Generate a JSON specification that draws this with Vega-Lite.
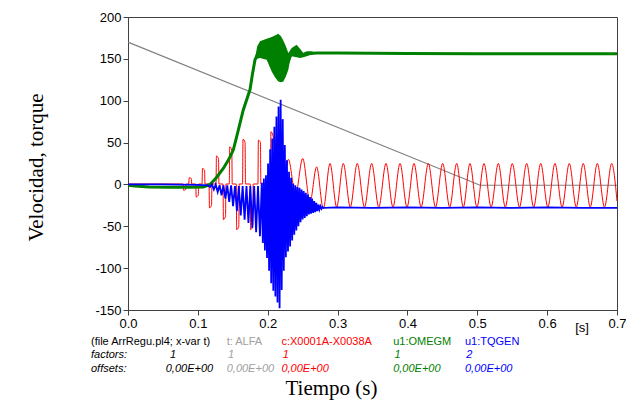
{
"$schema":"https://vega.github.io/schema/vega-lite/v6.json",
"width":489,"height":293,
"autosize":{"type":"none"},
"padding":{"left":128,"top":17,"right":9,"bottom":90},
"background":"white",
"config":{"view":{"stroke":"#404040","strokeWidth":1}},
"resolve":{"axis":{"x":"independent","y":"independent"}},
"datasets":{
"one":[{"k":1}],
"alfa":[{"t":0,"v":170},{"t":0.504,"v":-1},{"t":0.7,"v":-1}],
"red":[{"t":0,"v":0.5},{"t":0.079,"v":0.5},{"t":0.0796,"v":-7},{"t":0.0826,"v":-6},{"t":0.0832,"v":0.5},
{"t":0.087,"v":0.5},{"t":0.0876,"v":8},{"t":0.0906,"v":7},{"t":0.0912,"v":0.5},
{"t":0.097,"v":0.5},{"t":0.0976,"v":-15},{"t":0.1006,"v":-13},{"t":0.1012,"v":0.5},
{"t":0.106,"v":0.5},{"t":0.1066,"v":19},{"t":0.1096,"v":17},{"t":0.1102,"v":0.5},
{"t":0.116,"v":0.5},{"t":0.1166,"v":-28},{"t":0.1196,"v":-25},{"t":0.1202,"v":0.5},
{"t":0.126,"v":0.5},{"t":0.1266,"v":34},{"t":0.1296,"v":31},{"t":0.1302,"v":0.5},
{"t":0.136,"v":0.5},{"t":0.1366,"v":-42},{"t":0.1396,"v":-38},{"t":0.1402,"v":0.5},
{"t":0.145,"v":0.5},{"t":0.1456,"v":45},{"t":0.1486,"v":41},{"t":0.1492,"v":0.5},
{"t":0.155,"v":0.5},{"t":0.1556,"v":-54},{"t":0.1586,"v":-50},{"t":0.1592,"v":0.5},
{"t":0.164,"v":0.5},{"t":0.1646,"v":54},{"t":0.1676,"v":50},{"t":0.1682,"v":0.5},
{"t":0.175,"v":0.5},{"t":0.1756,"v":-54},{"t":0.1786,"v":-50},{"t":0.1792,"v":0.5},
{"t":0.186,"v":0.5},{"t":0.1866,"v":53},{"t":0.1896,"v":50},{"t":0.1902,"v":0.5},
{"t":0.196,"v":0.5},{"t":0.1966,"v":-60},{"t":0.1996,"v":-55},{"t":0.2002,"v":0.5},
{"t":0.204,"v":0.5},{"t":0.2046,"v":63},{"t":0.2076,"v":58},
{"t":0.2176,"v":-62},{"t":0.2295,"v":30},{"t":0.2398,"v":-12},{"t":0.2501,"v":31},{"t":0.2605,"v":-21},{"t":0.27,"v":21},{"t":0.2796,"v":-29},
{"t":0.2892,"v":25},{"t":0.2987,"v":-27},{"t":0.3082,"v":25},{"t":0.3182,"v":-27},{"t":0.3282,"v":25},{"t":0.3385,"v":-27},{"t":0.3488,"v":25},{"t":0.359,"v":-27},{"t":0.3693,"v":25},{"t":0.3793,"v":-27},{"t":0.3894,"v":25},{"t":0.3994,"v":-27},{"t":0.4094,"v":25},{"t":0.4196,"v":-27},{"t":0.4299,"v":25},{"t":0.4402,"v":-27},{"t":0.4505,"v":25},{"t":0.4605,"v":-27},{"t":0.4705,"v":25},{"t":0.48,"v":-27},{"t":0.4895,"v":25},{"t":0.4995,"v":-27},{"t":0.5096,"v":25},{"t":0.5198,"v":-27},{"t":0.5301,"v":25},{"t":0.5401,"v":-27},{"t":0.5501,"v":25},{"t":0.5604,"v":-27},{"t":0.5707,"v":25},{"t":0.5807,"v":-27},{"t":0.5908,"v":25},{"t":0.601,"v":-27},{"t":0.6112,"v":25},{"t":0.6214,"v":-27},{"t":0.6317,"v":25},{"t":0.6417,"v":-27},{"t":0.6517,"v":25},{"t":0.6617,"v":-27},{"t":0.6718,"v":25},{"t":0.6821,"v":-27},{"t":0.6924,"v":25},{"t":0.7,"v":-20}],
"green":[{"t":0,"v":-1},{"t":0.01,"v":-2},{"t":0.03,"v":-3},{"t":0.06,"v":-3.5},{"t":0.09,"v":-3.5},{"t":0.108,"v":-3},{"t":0.1174,"v":0},{"t":0.1264,"v":8},{"t":0.1364,"v":19},{"t":0.1437,"v":29},{"t":0.1507,"v":41},{"t":0.1579,"v":65},{"t":0.165,"v":89},{"t":0.1746,"v":113},{"t":0.1782,"v":132},{"t":0.1818,"v":149},{"t":0.189,"v":162},{"t":0.195,"v":162},{"t":0.2057,"v":156},{"t":0.2129,"v":152},{"t":0.2176,"v":151},{"t":0.2223,"v":148},{"t":0.2295,"v":147},{"t":0.2342,"v":158},{"t":0.2414,"v":159},{"t":0.2486,"v":155},{"t":0.2557,"v":156},{"t":0.27,"v":157},{"t":0.3,"v":157},{"t":0.4,"v":156.5},{"t":0.5,"v":156},{"t":0.6,"v":156},{"t":0.7,"v":156}],
"band":[{"t":0.1818,"lo":147,"hi":151},{"t":0.185,"lo":150,"hi":165},{"t":0.189,"lo":151,"hi":171},{"t":0.1985,"lo":149,"hi":174},{"t":0.2057,"lo":135,"hi":176},{"t":0.2104,"lo":128,"hi":178},{"t":0.2151,"lo":123,"hi":180},{"t":0.219,"lo":122,"hi":177},{"t":0.2223,"lo":123,"hi":172},{"t":0.226,"lo":129,"hi":165},{"t":0.2295,"lo":137,"hi":157},{"t":0.232,"lo":148,"hi":160},{"t":0.2343,"lo":153,"hi":163},{"t":0.2414,"lo":152,"hi":167},{"t":0.2462,"lo":151,"hi":162},{"t":0.2509,"lo":152,"hi":157},{"t":0.2558,"lo":153,"hi":159},{"t":0.262,"lo":155,"hi":159},{"t":0.2677,"lo":156,"hi":158}],
"blue":[{"t":0,"v":0},{"t":0.05,"v":0},{"t":0.1,"v":-0.5},{"t":0.114,"v":-1},
{"t":0.1174,"v":-3},{"t":0.1201,"v":0},{"t":0.1229,"v":-6},{"t":0.1256,"v":0},{"t":0.1284,"v":-9},{"t":0.1311,"v":-1},{"t":0.1339,"v":-13},{"t":0.1366,"v":-1},{"t":0.1394,"v":-17},{"t":0.1421,"v":-1},{"t":0.1449,"v":-21},{"t":0.1476,"v":-1},{"t":0.1504,"v":-26},{"t":0.1531,"v":-2},{"t":0.1559,"v":-32},{"t":0.1586,"v":-2},{"t":0.1614,"v":-37},{"t":0.1641,"v":-2},{"t":0.1669,"v":-42},{"t":0.1696,"v":-2},{"t":0.1724,"v":-46},{"t":0.1751,"v":-2},{"t":0.1779,"v":-52},{"t":0.1806,"v":-2},{"t":0.1834,"v":-57},{"t":0.1861,"v":-2},{"t":0.1889,"v":-62},
{"t":0.1915,"v":2},{"t":0.193,"v":-70},{"t":0.1945,"v":7},{"t":0.196,"v":-79},{"t":0.1975,"v":11},{"t":0.199,"v":-88},{"t":0.2005,"v":25},{"t":0.202,"v":-103},{"t":0.2035,"v":42},{"t":0.205,"v":-118},{"t":0.2065,"v":55},{"t":0.208,"v":-127},{"t":0.2095,"v":69},{"t":0.211,"v":-134},{"t":0.2125,"v":81},{"t":0.214,"v":-141},{"t":0.2155,"v":93},{"t":0.217,"v":-148},{"t":0.2185,"v":101},{"t":0.22,"v":-126},{"t":0.2215,"v":78},{"t":0.223,"v":-103},{"t":0.2245,"v":47},{"t":0.226,"v":-87},{"t":0.2275,"v":29},{"t":0.229,"v":-80},{"t":0.2305,"v":15},{"t":0.232,"v":-74},{"t":0.2335,"v":8},{"t":0.235,"v":-67},{"t":0.2365,"v":1},{"t":0.238,"v":-60},{"t":0.2395,"v":-1},{"t":0.241,"v":-55},{"t":0.2425,"v":-3},{"t":0.244,"v":-50},{"t":0.2455,"v":-4},{"t":0.247,"v":-45},{"t":0.2485,"v":-6},{"t":0.25,"v":-42},{"t":0.2515,"v":-8},{"t":0.253,"v":-40},{"t":0.2545,"v":-10},{"t":0.256,"v":-38},{"t":0.2575,"v":-12},{"t":0.259,"v":-36},{"t":0.2605,"v":-15},{"t":0.262,"v":-35},{"t":0.2635,"v":-17},{"t":0.265,"v":-34},{"t":0.2665,"v":-20},{"t":0.268,"v":-33},{"t":0.2695,"v":-22},{"t":0.271,"v":-32},{"t":0.2725,"v":-24},{"t":0.274,"v":-30},{"t":0.2755,"v":-26},{"t":0.277,"v":-29},{"t":0.2785,"v":-27},
{"t":0.28,"v":-28},{"t":0.3,"v":-27.5},{"t":0.35,"v":-28},{"t":0.4,"v":-27.5},{"t":0.45,"v":-28},{"t":0.5,"v":-27.5},{"t":0.55,"v":-28},{"t":0.6,"v":-27.5},{"t":0.65,"v":-28},{"t":0.7,"v":-28}]
},
"layer":[
{"data":{"name":"alfa"},"mark":{"type":"line","stroke":"#808080","strokeWidth":1.2},
"encoding":{
"x":{"field":"t","type":"quantitative","scale":{"domain":[0,0.7],"nice":false},
"axis":{"values":[0,0.1,0.2,0.3,0.4,0.5,0.6,0.7],"labelExpr":"format(datum.value,'.1f')","grid":false,"tickSize":5,"tickColor":"#404040","domainColor":"#404040","labelFont":"Liberation Sans","labelFontSize":13,"labelColor":"#000000","labelPadding":2,"labelFlush":false,"labelOverlap":false,
"title":"Tiempo (s)","titleX":203,"titleY":84,"titleAlign":"center","titleAnchor":null,"titleBaseline":"alphabetic","titleFont":"Liberation Serif","titleFontSize":21,"titleFontWeight":"normal","titleColor":"#000000"}},
"y":{"field":"v","type":"quantitative","scale":{"domain":[-150,200],"nice":false},
"axis":{"values":[-150,-100,-50,0,50,100,150,200],"labelExpr":"'' + datum.value","grid":false,"tickSize":5,"tickColor":"#404040","domainColor":"#404040","labelFont":"Liberation Sans","labelFontSize":13,"labelColor":"#000000","labelPadding":2,"labelFlush":false,"labelOverlap":false,
"title":"Velocidad, torque","titleX":-86,"titleY":150,"titleAngle":-90,"titleAlign":"center","titleAnchor":null,"titleBaseline":"alphabetic","titleFont":"Liberation Serif","titleFontSize":21,"titleFontWeight":"normal","titleColor":"#000000"}}}},
{"data":{"name":"red"},"mark":{"type":"line","stroke":"#ff0000","strokeWidth":1,"interpolate":"monotone"},
"encoding":{"x":{"field":"t","type":"quantitative","scale":{"domain":[0,0.7],"nice":false},"axis":null},"y":{"field":"v","type":"quantitative","scale":{"domain":[-150,200],"nice":false},"axis":null}}},
{"data":{"name":"band"},"mark":{"type":"area","fill":"#008000","opacity":1},
"encoding":{"x":{"field":"t","type":"quantitative","scale":{"domain":[0,0.7],"nice":false},"axis":null},"y":{"field":"lo","type":"quantitative","scale":{"domain":[-150,200],"nice":false},"axis":null},"y2":{"field":"hi"}}},
{"data":{"name":"green"},"mark":{"type":"line","stroke":"#008000","strokeWidth":3},
"encoding":{"x":{"field":"t","type":"quantitative","scale":{"domain":[0,0.7],"nice":false},"axis":null},"y":{"field":"v","type":"quantitative","scale":{"domain":[-150,200],"nice":false},"axis":null}}},
{"data":{"name":"blue"},"mark":{"type":"line","stroke":"#0000ff","strokeWidth":1.8},
"encoding":{"x":{"field":"t","type":"quantitative","scale":{"domain":[0,0.7],"nice":false},"axis":null},"y":{"field":"v","type":"quantitative","scale":{"domain":[-150,200],"nice":false},"axis":null}}},
{"data":{"name":"one"},"mark":{"type":"text","text":"(file ArrRegu.pl4; x-var t)","align":"left","baseline":"middle","font":"Liberation Sans","fontSize":11,"fill":"#000000"},
"encoding":{"x":{"datum":-0.053,"type":"quantitative","scale":{"domain":[0,0.7],"nice":false},"axis":null},"y":{"datum":-188.5,"type":"quantitative","scale":{"domain":[-150,200],"nice":false},"axis":null}}},
{"data":{"name":"one"},"mark":{"type":"text","text":"t: ALFA","align":"left","baseline":"middle","font":"Liberation Sans","fontSize":11,"fill":"#a0a0a0"},
"encoding":{"x":{"datum":0.1413,"type":"quantitative","scale":{"domain":[0,0.7],"nice":false},"axis":null},"y":{"datum":-188.5,"type":"quantitative","scale":{"domain":[-150,200],"nice":false},"axis":null}}},
{"data":{"name":"one"},"mark":{"type":"text","text":"c:X0001A-X0038A","align":"left","baseline":"middle","font":"Liberation Sans","fontSize":11,"fill":"#ff0000"},
"encoding":{"x":{"datum":0.2196,"type":"quantitative","scale":{"domain":[0,0.7],"nice":false},"axis":null},"y":{"datum":-188.5,"type":"quantitative","scale":{"domain":[-150,200],"nice":false},"axis":null}}},
{"data":{"name":"one"},"mark":{"type":"text","text":"u1:OMEGM","align":"left","baseline":"middle","font":"Liberation Sans","fontSize":11,"fill":"#008000"},
"encoding":{"x":{"datum":0.3796,"type":"quantitative","scale":{"domain":[0,0.7],"nice":false},"axis":null},"y":{"datum":-188.5,"type":"quantitative","scale":{"domain":[-150,200],"nice":false},"axis":null}}},
{"data":{"name":"one"},"mark":{"type":"text","text":"u1:TQGEN","align":"left","baseline":"middle","font":"Liberation Sans","fontSize":11,"fill":"#0000ff"},
"encoding":{"x":{"datum":0.4824,"type":"quantitative","scale":{"domain":[0,0.7],"nice":false},"axis":null},"y":{"datum":-188.5,"type":"quantitative","scale":{"domain":[-150,200],"nice":false},"axis":null}}},
{"data":{"name":"one"},"mark":{"type":"text","text":"factors:","align":"left","baseline":"middle","font":"Liberation Sans","fontSize":11,"fontStyle":"italic","fill":"#000000"},
"encoding":{"x":{"datum":-0.053,"type":"quantitative","scale":{"domain":[0,0.7],"nice":false},"axis":null},"y":{"datum":-204,"type":"quantitative","scale":{"domain":[-150,200],"nice":false},"axis":null}}},
{"data":{"name":"one"},"mark":{"type":"text","text":"offsets:","align":"left","baseline":"middle","font":"Liberation Sans","fontSize":11,"fontStyle":"italic","fill":"#000000"},
"encoding":{"x":{"datum":-0.053,"type":"quantitative","scale":{"domain":[0,0.7],"nice":false},"axis":null},"y":{"datum":-220,"type":"quantitative","scale":{"domain":[-150,200],"nice":false},"axis":null}}},
{"data":{"name":"one"},"mark":{"type":"text","text":"1","align":"left","baseline":"middle","font":"Liberation Sans","fontSize":11,"fontStyle":"italic","fill":"#000000"},
"encoding":{"x":{"datum":0.06,"type":"quantitative","scale":{"domain":[0,0.7],"nice":false},"axis":null},"y":{"datum":-204,"type":"quantitative","scale":{"domain":[-150,200],"nice":false},"axis":null}}},
{"data":{"name":"one"},"mark":{"type":"text","text":"0,00E+00","align":"left","baseline":"middle","font":"Liberation Sans","fontSize":11,"fontStyle":"italic","fill":"#000000"},
"encoding":{"x":{"datum":0.054,"type":"quantitative","scale":{"domain":[0,0.7],"nice":false},"axis":null},"y":{"datum":-220,"type":"quantitative","scale":{"domain":[-150,200],"nice":false},"axis":null}}},
{"data":{"name":"one"},"mark":{"type":"text","text":"1","align":"left","baseline":"middle","font":"Liberation Sans","fontSize":11,"fontStyle":"italic","fill":"#a0a0a0"},
"encoding":{"x":{"datum":0.1431,"type":"quantitative","scale":{"domain":[0,0.7],"nice":false},"axis":null},"y":{"datum":-204,"type":"quantitative","scale":{"domain":[-150,200],"nice":false},"axis":null}}},
{"data":{"name":"one"},"mark":{"type":"text","text":"0,00E+00","align":"left","baseline":"middle","font":"Liberation Sans","fontSize":11,"fontStyle":"italic","fill":"#a0a0a0"},
"encoding":{"x":{"datum":0.1413,"type":"quantitative","scale":{"domain":[0,0.7],"nice":false},"axis":null},"y":{"datum":-220,"type":"quantitative","scale":{"domain":[-150,200],"nice":false},"axis":null}}},
{"data":{"name":"one"},"mark":{"type":"text","text":"1","align":"left","baseline":"middle","font":"Liberation Sans","fontSize":11,"fontStyle":"italic","fill":"#ff0000"},
"encoding":{"x":{"datum":0.2214,"type":"quantitative","scale":{"domain":[0,0.7],"nice":false},"axis":null},"y":{"datum":-204,"type":"quantitative","scale":{"domain":[-150,200],"nice":false},"axis":null}}},
{"data":{"name":"one"},"mark":{"type":"text","text":"0,00E+00","align":"left","baseline":"middle","font":"Liberation Sans","fontSize":11,"fontStyle":"italic","fill":"#ff0000"},
"encoding":{"x":{"datum":0.2196,"type":"quantitative","scale":{"domain":[0,0.7],"nice":false},"axis":null},"y":{"datum":-220,"type":"quantitative","scale":{"domain":[-150,200],"nice":false},"axis":null}}},
{"data":{"name":"one"},"mark":{"type":"text","text":"1","align":"left","baseline":"middle","font":"Liberation Sans","fontSize":11,"fontStyle":"italic","fill":"#008000"},
"encoding":{"x":{"datum":0.3814,"type":"quantitative","scale":{"domain":[0,0.7],"nice":false},"axis":null},"y":{"datum":-204,"type":"quantitative","scale":{"domain":[-150,200],"nice":false},"axis":null}}},
{"data":{"name":"one"},"mark":{"type":"text","text":"0,00E+00","align":"left","baseline":"middle","font":"Liberation Sans","fontSize":11,"fontStyle":"italic","fill":"#008000"},
"encoding":{"x":{"datum":0.3796,"type":"quantitative","scale":{"domain":[0,0.7],"nice":false},"axis":null},"y":{"datum":-220,"type":"quantitative","scale":{"domain":[-150,200],"nice":false},"axis":null}}},
{"data":{"name":"one"},"mark":{"type":"text","text":"2","align":"left","baseline":"middle","font":"Liberation Sans","fontSize":11,"fontStyle":"italic","fill":"#0000ff"},
"encoding":{"x":{"datum":0.4842,"type":"quantitative","scale":{"domain":[0,0.7],"nice":false},"axis":null},"y":{"datum":-204,"type":"quantitative","scale":{"domain":[-150,200],"nice":false},"axis":null}}},
{"data":{"name":"one"},"mark":{"type":"text","text":"0,00E+00","align":"left","baseline":"middle","font":"Liberation Sans","fontSize":11,"fontStyle":"italic","fill":"#0000ff"},
"encoding":{"x":{"datum":0.4824,"type":"quantitative","scale":{"domain":[0,0.7],"nice":false},"axis":null},"y":{"datum":-220,"type":"quantitative","scale":{"domain":[-150,200],"nice":false},"axis":null}}},
{"data":{"name":"one"},"mark":{"type":"text","text":"[s]","align":"center","baseline":"middle","font":"Liberation Sans","fontSize":13,"fill":"#000000"},
"encoding":{"x":{"datum":0.65,"type":"quantitative","scale":{"domain":[0,0.7],"nice":false},"axis":null},"y":{"datum":-171.6,"type":"quantitative","scale":{"domain":[-150,200],"nice":false},"axis":null}}}
]
}
